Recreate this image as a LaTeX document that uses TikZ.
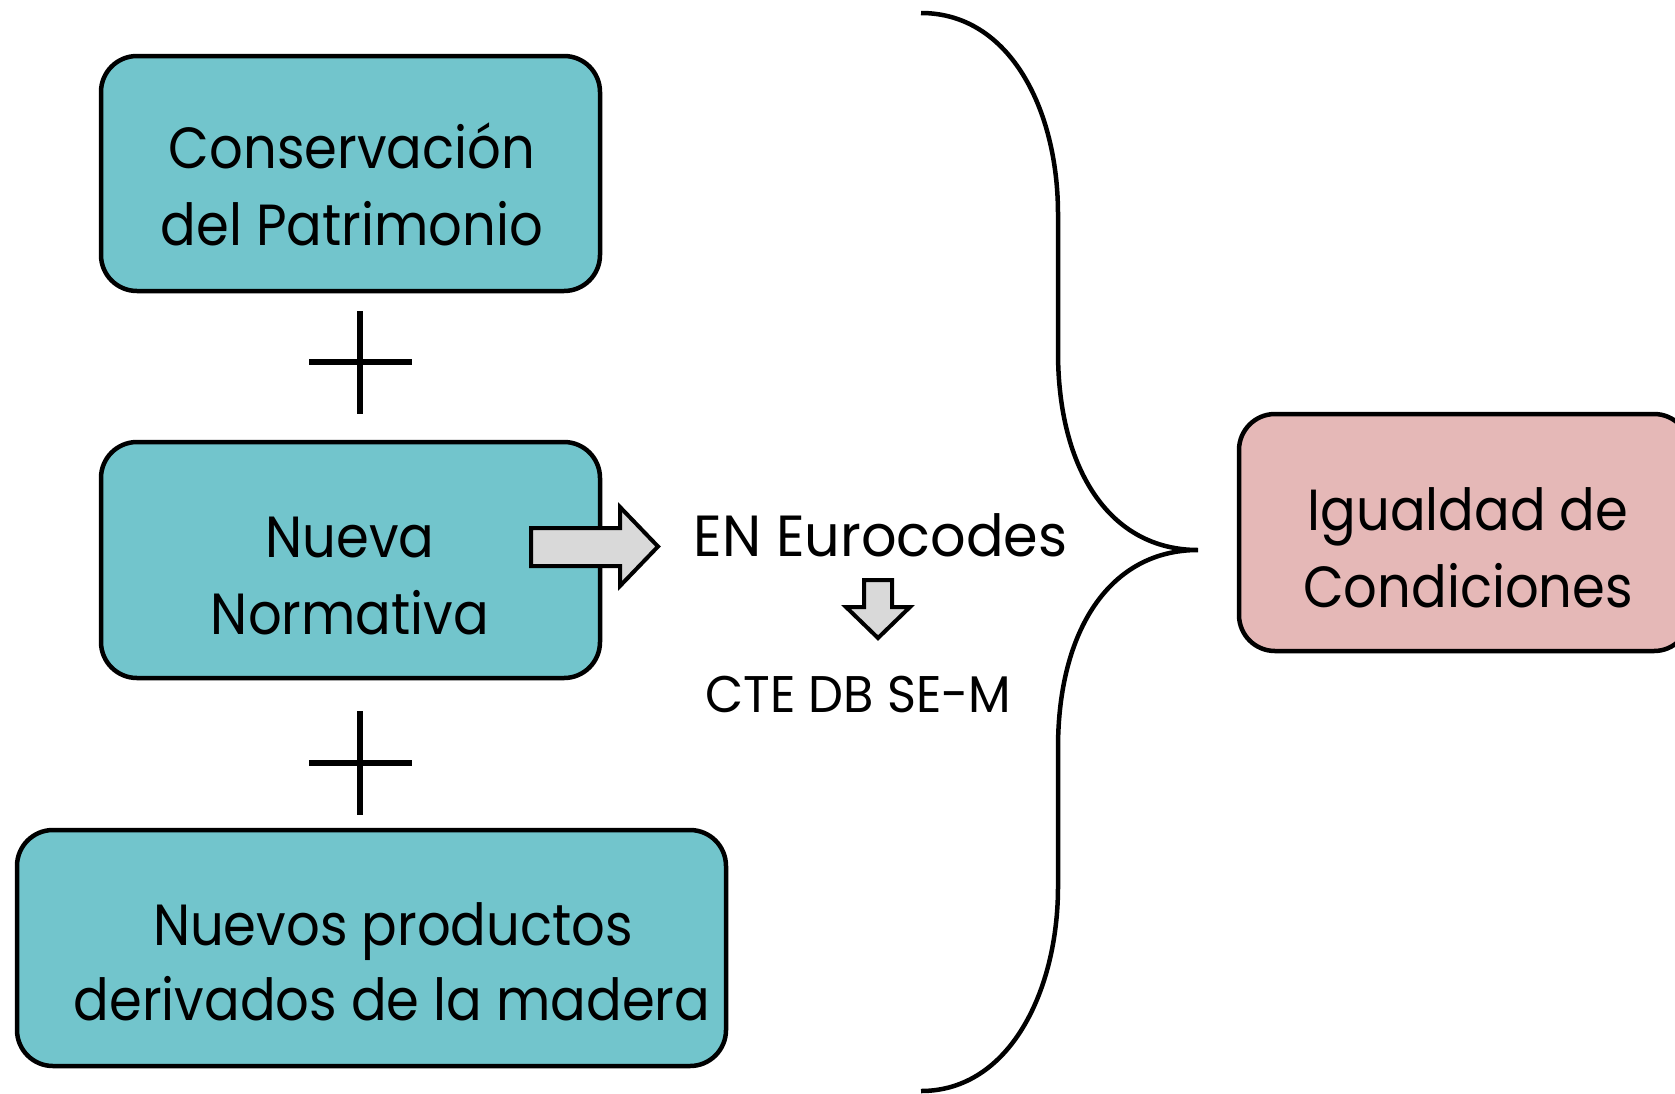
\documentclass[tikz,border=0pt]{standalone}
\usepackage{fontspec}
\setmainfont{Poppins}[FakeStretch=0.91]
\newfontfamily\labelfont{Poppins}[FakeStretch=0.96]
\definecolor{boxteal}{HTML}{72C5CC}
\definecolor{boxpink}{HTML}{E5B8B7}
\definecolor{arrowgrey}{HTML}{D9D9D9}
\begin{document}
\begin{tikzpicture}[x=1pt,y=-1pt]
\tikzset{
  box/.style={draw=black, line width=4.5pt, rounded corners=36pt, fill=boxteal, inner sep=0pt},
  boxtxt/.style={anchor=base, inner sep=0pt, font=\fontsize{58}{70}\selectfont},
  lbl/.style={anchor=base, inner sep=0pt, font=\labelfont\fontsize{58}{70}\selectfont},
  blockarrow/.style={draw=black, line width=4pt, fill=arrowgrey, line join=miter},
  plusline/.style={line width=6pt},
  bracel/.style={line width=4.5pt}
}
\useasboundingbox (0,0) rectangle (1675,1093);

% boxes
\node[box, minimum width=499pt, minimum height=235pt] (cons) at (350.5,173.5) {};
\node[box, minimum width=499pt, minimum height=236pt] (norm) at (350.5,560) {};
\node[box, minimum width=709pt, minimum height=236pt] (prod) at (371.5,948) {};
\node[box, fill=boxpink, minimum width=451pt, minimum height=237pt] (igual) at (1464.5,532.5) {};

% box texts
\node[boxtxt] (cons1) at (352,168) {Conservación};
\node[boxtxt] (cons2) at (352,245) {del Patrimonio};
\node[boxtxt] (norm1) at (350,557) {Nueva};
\node[boxtxt] (norm2) at (350,634) {Normativa};
\node[boxtxt] (prod1) at (393,945) {Nuevos productos};
\node[boxtxt] (prod2) at (392,1020) {derivados de la madera};
\node[boxtxt] (igual1) at (1468,530) {Igualdad de};
\node[boxtxt] (igual2) at (1468,607) {Condiciones};

% plus signs
\draw[plusline] (309,362) -- (412,362);
\draw[plusline] (360,311) -- (360,414);
\draw[plusline] (309,763) -- (412,763);
\draw[plusline] (360,711) -- (360,815);

% block arrows and labels
\draw[blockarrow] (531,528) -- (620,528) -- (620,507) -- (658,546.5) -- (620,586) -- (620,566) -- (531,566) -- cycle;
\node[lbl] (en) at (880.5,556) {EN Eurocodes};
\draw[blockarrow] (864,580) -- (892,580) -- (892,607) -- (910,607) -- (878,638) -- (846,607) -- (864,607) -- cycle;
\node[lbl, font=\labelfont\fontsize{51.5}{60}\selectfont] (cte) at (858.5,712) {CTE DB SE-M};

% brace
\coordinate (btop) at (921,13);
\coordinate (btip) at (1198,550);
\coordinate (bbot) at (921,1091);
\draw[bracel] (btop) .. controls (1010,13) and (1058,110) .. (1058,214) -- (1058,352)
  .. controls (1058,470) and (1110,550) .. (btip)
  .. controls (1110,550) and (1058,630) .. (1058,748) -- (1058,887)
  .. controls (1058,990) and (1010,1091) .. (bbot);
\end{tikzpicture}
\end{document}
